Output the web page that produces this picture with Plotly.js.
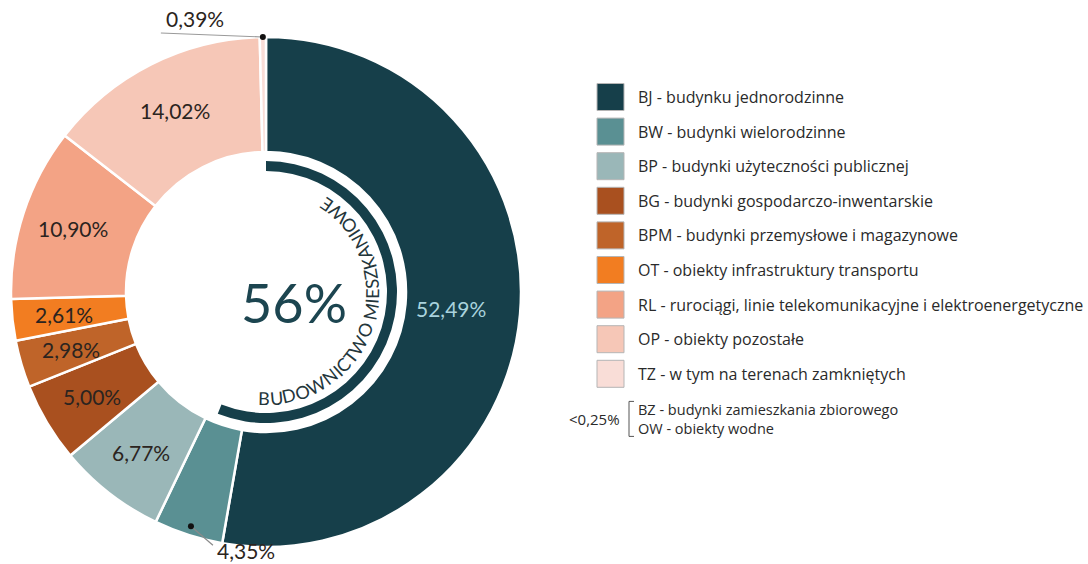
<!DOCTYPE html>
<html><head><meta charset="utf-8">
<script src="https://cdn.plot.ly/plotly-3.0.1.min.js"></script>
<style>html,body{margin:0;padding:0;background:#fff;overflow:hidden}#chart{width:1088px;height:564px}</style>
</head><body><div id="chart"></div>
<script>
// ---------- DATA ----------
const codes = ['BJ','BW','BP','BG','BPM','OT','RL','OP','TZ'];
const names = [
  'BJ - budynku jednorodzinne',
  'BW - budynki wielorodzinne',
  'BP - budynki użyteczności publicznej',
  'BG - budynki gospodarczo-inwentarskie',
  'BPM - budynki przemysłowe i magazynowe',
  'OT - obiekty infrastruktury transportu',
  'RL - rurociągi, linie telekomunikacyjne i elektroenergetyczne',
  'OP - obiekty pozostałe',
  'TZ - w tym na terenach zamkniętych'
];
const shares = [52.49, 4.35, 6.77, 5.00, 2.98, 2.61, 10.90, 14.02, 0.39];
const residentialShare = 56;
const residentialTitle = 'BUDOWNICTWO MIESZKANIOWE';
const smallNote = '<0,25%';
const smallNames = ['BZ - budynki zamieszkania zbiorowego', 'OW - obiekty wodne'];

// ---------- STYLE ----------
const colors = ['#163f4a','#5a9093','#9ab7b8','#a9501f','#bf6429','#f27d21','#f3a385','#f6c7b7','#f9ddd7'];
const W = 1088, H = 564;
const cx = 266, cy = 292, R = 255, holeR = 140, arcOuter = 131, arcInner = 121, textR = 106;
const X = p => p / W, Y = p => 1 - p / H;
const fmt = v => v.toFixed(2).replace('.', ',') + '%';

const total = shares.reduce((a, b) => a + b, 0);
let cum = 0;
const mids = shares.map(v => { const m = (cum + v / 2) / total * 360; cum += v; return m; });
function polar(r, deg) { const t = deg * Math.PI / 180; return [cx + r * Math.sin(t), cy - r * Math.cos(t)]; }

const mainPie = {
  type: 'pie', values: shares, labels: codes, sort: false, direction: 'clockwise', rotation: 0,
  hole: holeR / R, textinfo: 'none', hoverinfo: 'skip', showlegend: false,
  marker: { colors: colors, line: { color: '#ffffff', width: 2.5 } },
  domain: { x: [X(cx - R), X(cx + R)], y: [Y(cy + R), Y(cy - R)] }
};
const arcPie = {
  type: 'pie', values: [residentialShare, 100 - residentialShare], labels: ['res', 'rest'],
  sort: false, direction: 'clockwise', rotation: 0, hole: arcInner / arcOuter,
  textinfo: 'none', hoverinfo: 'skip', showlegend: false,
  marker: { colors: [colors[0], 'rgba(0,0,0,0)'], line: { width: 0 } },
  domain: { x: [X(cx - arcOuter), X(cx + arcOuter)], y: [Y(cy + arcOuter), Y(cy - arcOuter)] }
};

const annotations = [];
const shapes = [];
const labelFont = { family: 'Lato, sans-serif', size: 21, color: '#2b2420' };

// inside labels
shares.forEach((v, i) => {
  if (i === 1 || i === 8) return;
  const r = i === 0 ? 186 : 203;
  const [x, y] = polar(r, mids[i]);
  annotations.push({ x: X(x), y: Y(y), xref: 'paper', yref: 'paper', text: fmt(v), showarrow: false,
    xanchor: 'center', yanchor: 'middle',
    font: i === 0 ? Object.assign({}, labelFont, { color: '#a9d3dd' }) : labelFont });
});

// outside label BW
(function () {
  const [dx, dy] = polar(R - 9, mids[1]);
  const ex = dx + 22, ey = dy + 19;
  shapes.push({ type: 'line', xref: 'paper', yref: 'paper', x0: X(dx), y0: Y(dy), x1: X(ex), y1: Y(ey), line: { color: '#8a8a8a', width: 1.2 } });
  shapes.push({ type: 'circle', xref: 'paper', yref: 'paper', x0: X(dx - 3), x1: X(dx + 3), y0: Y(dy + 3), y1: Y(dy - 3), fillcolor: '#111', line: { width: 0 } });
  annotations.push({ x: X(ex + 2), y: Y(ey + 5), xref: 'paper', yref: 'paper', text: fmt(shares[1]), showarrow: false, xanchor: 'left', yanchor: 'middle', font: labelFont });
})();
// outside label TZ
(function () {
  const [dx, dy] = polar(R, mids[8]);
  const ex = dx - 102, ey = dy - 4;
  shapes.push({ type: 'line', xref: 'paper', yref: 'paper', x0: X(dx), y0: Y(dy), x1: X(ex), y1: Y(ey), line: { color: '#9a9a9a', width: 1.2 } });
  shapes.push({ type: 'circle', xref: 'paper', yref: 'paper', x0: X(dx - 3), x1: X(dx + 3), y0: Y(dy + 3), y1: Y(dy - 3), fillcolor: '#111', line: { width: 0 } });
  annotations.push({ x: X(dx - 68), y: Y(dy - 19), xref: 'paper', yref: 'paper', text: fmt(shares[8]), showarrow: false, xanchor: 'center', yanchor: 'middle', font: labelFont });
})();

// center value
annotations.push({ x: X(cx + 28), y: Y(cy + 10), xref: 'paper', yref: 'paper', text: residentialShare + '%', showarrow: false,
  xanchor: 'center', yanchor: 'middle', font: { family: 'Lato, sans-serif', size: 54, color: '#1c4550' } });

// curved title along the inner arc
(function () {
  const fs = 18;
  const ctx = document.createElement('canvas').getContext('2d');
  ctx.font = fs + 'px Lato';
  const chars = Array.from(residentialTitle);
  const w = chars.map(c => ctx.measureText(c).width);
  const startPhi = -91, endPhi = 55;
  const natural = w.reduce((a, b) => a + b, 0) - w[0] / 2 - w[w.length - 1] / 2;
  const target = (endPhi - startPhi) * Math.PI / 180 * textR;
  const ls = (target - natural) / (chars.length - 1);
  let s = 0;
  chars.forEach((c, i) => {
    if (i > 0) s += w[i - 1] / 2 + w[i] / 2 + ls;
    if (c === ' ') return;
    const phi = startPhi + s / textR * 180 / Math.PI;
    const t = phi * Math.PI / 180;
    const x = cx + textR * Math.cos(t), y = cy - textR * Math.sin(t);
    annotations.push({ x: X(x), y: Y(y), xref: 'paper', yref: 'paper', text: c, showarrow: false,
      xanchor: 'center', yanchor: 'middle', textangle: -(phi + 90),
      font: { family: 'Lato, sans-serif', size: fs, color: '#24363b' } });
  });
})();

// legend
const legX = 597, legSw = 27, legTop = 97, legStep = 34.6, legTextX = 636;
const legFont = { family: 'Open Sans, sans-serif', size: 16, color: '#2a2a2a' };
names.forEach((n, i) => {
  const yc = legTop + i * legStep;
  shapes.push({ type: 'rect', xref: 'paper', yref: 'paper', x0: X(legX), x1: X(legX + legSw), y0: Y(yc + legSw / 2), y1: Y(yc - legSw / 2),
    fillcolor: colors[i], line: { color: '#b5b5b5', width: 1 } });
  annotations.push({ x: X(legTextX), y: Y(yc), xref: 'paper', yref: 'paper', text: n, showarrow: false, xanchor: 'left', yanchor: 'middle', font: legFont });
});
(function () {
  const yc = legTop + names.length * legStep + 10;
  annotations.push({ x: X(622), y: Y(yc + 1), xref: 'paper', yref: 'paper', text: smallNote, showarrow: false, xanchor: 'right', yanchor: 'middle', font: Object.assign({}, legFont, { size: 15 }) });
  shapes.push({ type: 'path', xref: 'paper', yref: 'paper',
    path: `M ${X(634)},${Y(yc - 17)} L ${X(629)},${Y(yc - 17)} L ${X(629)},${Y(yc + 18)} L ${X(634)},${Y(yc + 18)}`,
    line: { color: '#555', width: 1 } });
  annotations.push({ x: X(legTextX), y: Y(yc + 1), xref: 'paper', yref: 'paper', text: smallNames.join('<br>'), showarrow: false,
    xanchor: 'left', yanchor: 'middle', align: 'left', font: Object.assign({}, legFont, { size: 14.5 }) });
})();

Plotly.newPlot('chart', [mainPie, arcPie], {
  width: W, height: H, margin: { l: 0, r: 0, t: 0, b: 0 },
  paper_bgcolor: '#ffffff', plot_bgcolor: '#ffffff', showlegend: false,
  annotations: annotations, shapes: shapes
}, { staticPlot: true, displayModeBar: false });
</script></body></html>
